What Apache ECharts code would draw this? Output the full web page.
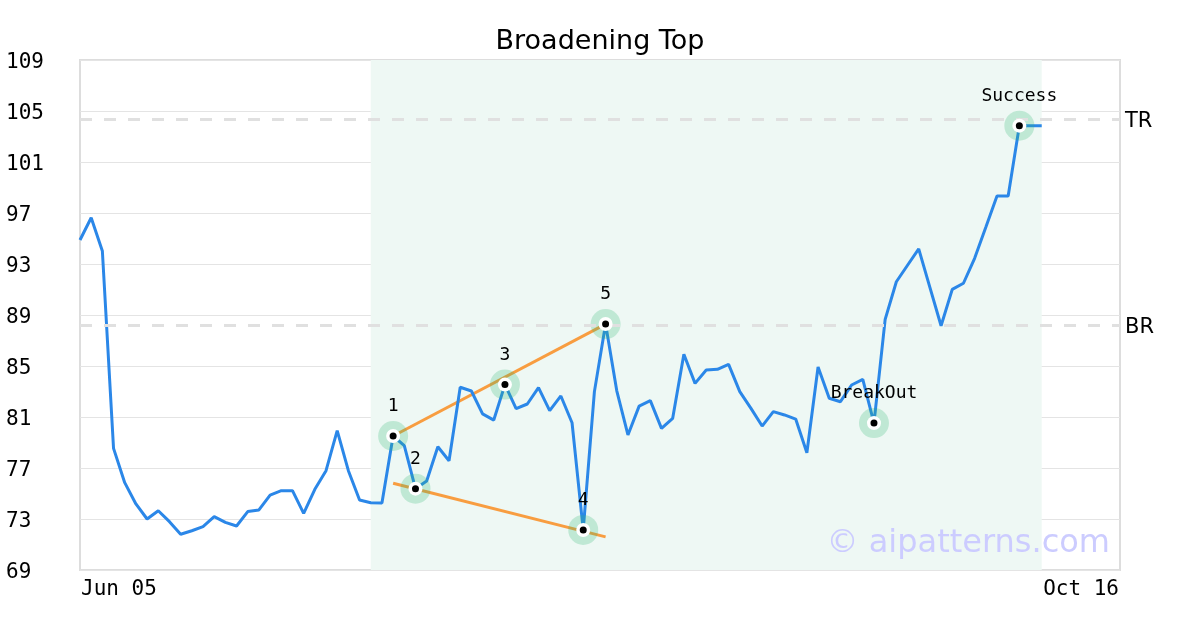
<!DOCTYPE html>
<html>
<head>
<meta charset="utf-8">
<script src="https://cdn.jsdelivr.net/npm/echarts@6/dist/echarts.min.js"></script>
<style>
  html, body { margin: 0; padding: 0; background: #ffffff; }
  #chart { width: 1200px; height: 630px; }
</style>
</head>
<body>
<div id="chart"></div>
<script>
// ---- data ----
const titleText = 'Broadening Top';
const xTickValues = [0, 93];
const xTickLabels = ['Jun 05', 'Oct 16'];
const yTickValues = [69, 73, 77, 81, 85, 89, 93, 97, 101, 105, 109];
const prices = [
  94.88, 96.63, 94.02, 78.54, 75.85, 74.18, 73.0, 73.65, 72.79, 71.8,
  72.08, 72.4, 73.18, 72.74, 72.45, 73.58, 73.71, 74.88, 75.22, 75.22,
  73.44, 75.33, 76.79, 79.93, 76.79, 74.49, 74.28, 74.25, 79.51, 78.75,
  75.38, 75.98, 78.67, 77.57, 83.33, 83.04, 81.24, 80.76, 83.54, 81.65,
  82.02, 83.3, 81.5, 82.65, 80.55, 72.14, 82.99, 88.29, 83.05, 79.59,
  81.85, 82.28, 80.11, 80.9, 85.92, 83.64, 84.69, 84.74, 85.13, 82.99,
  81.68, 80.29, 81.42, 81.16, 80.84, 78.2, 84.92, 82.47, 82.2, 83.51,
  83.95, 80.52, 88.66, 91.61, 92.9, 94.18, 91.17, 88.16, 91.01, 91.49,
  93.45, 95.88, 98.33, 98.33, 103.85, 103.85, 103.85
];
const patternIdx = [28, 30, 38, 45, 47, 71, 84];
const patternLabels = ['1', '2', '3', '4', '5', 'BreakOut', 'Success'];
const upperTrend = [[28, 79.51], [47, 88.29]];
const lowerTrend = [[28, 75.8], [47, 71.6]];
const levelValues = [104.35, 88.2];
const levelLabels = ['TR', 'BR'];
const zoneRange = [26, 86];
const watermark = '\u00A9 aipatterns.com';

// ---- build ----
const lineData = prices.map((v, i) => [i, v]);
const patternData = patternIdx.map((i, k) => ({ name: patternLabels[k], value: [i, prices[i]] }));
const mono = 'DejaVu Sans Mono';
const sans = 'DejaVu Sans';

const chart = echarts.init(document.getElementById('chart'), null, { renderer: 'canvas' });
chart.setOption({
  backgroundColor: '#ffffff',
  animation: false,
  title: {
    text: titleText,
    left: 'center',
    top: 23,
    textStyle: { fontFamily: sans, fontSize: 27, fontWeight: 'normal', color: '#000' }
  },
  grid: {
    left: 80, right: 80, top: 60, bottom: 60,
    containLabel: false,
    outerBoundsMode: 'none',
    show: true,
    borderColor: '#dddddd',
    borderWidth: 2,
    backgroundColor: 'transparent'
  },
  xAxis: {
    type: 'value',
    min: xTickValues[0],
    max: xTickValues[xTickValues.length - 1],
    interval: xTickValues[1] - xTickValues[0],
    axisLine: { show: false },
    axisTick: { show: false },
    splitLine: { show: false },
    axisLabel: {
      margin: 9,
      fontFamily: mono,
      fontSize: 21,
      color: '#000',
      alignMinLabel: 'left',
      alignMaxLabel: 'right',
      padding: [0, 1, 0, 1],
      formatter: (v) => {
        const k = xTickValues.indexOf(Math.round(v));
        return k >= 0 ? xTickLabels[k] : '';
      }
    }
  },
  yAxis: {
    type: 'value',
    min: yTickValues[0],
    max: yTickValues[yTickValues.length - 1],
    axisLine: { show: false },
    axisTick: { show: false, customValues: yTickValues },
    splitLine: { show: true, lineStyle: { color: '#e4e4e4', width: 1 } },
    axisLabel: {
      customValues: yTickValues,
      align: 'left',
      verticalAlign: 'top',
      lineHeight: 6,
      margin: 74,
      fontFamily: mono,
      fontSize: 21,
      color: '#000'
    }
  },
  graphic: [{
    type: 'text',
    right: 90,
    top: 528,
    z: 100,
    style: {
      text: watermark,
      font: '32px "DejaVu Sans"',
      fill: '#ccccff'
    }
  }],
  series: [
    {
      type: 'line',
      data: lineData,
      symbol: 'none',
      z: 3,
      lineStyle: { color: '#2b87e8', width: 3 },
      markArea: {
        silent: true,
        itemStyle: { color: '#eef8f4' },
        data: [[{ xAxis: zoneRange[0] }, { xAxis: zoneRange[1] }]]
      },
      markLine: {
        silent: true,
        symbol: 'none',
        lineStyle: { color: '#e0e0e0', width: 3, type: [12, 12] },
        label: {
          show: true,
          position: 'end',
          distance: 5,
          verticalAlign: 'top',
          lineHeight: 4,
          fontFamily: sans,
          fontSize: 21,
          color: '#000',
          formatter: (p) => levelLabels[p.dataIndex]
        },
        data: levelValues.map((v) => ({ yAxis: v }))
      }
    },
    {
      type: 'line',
      data: upperTrend,
      symbol: 'none',
      z: 2,
      lineStyle: { color: '#f89d40', width: 3 }
    },
    {
      type: 'line',
      data: lowerTrend,
      symbol: 'none',
      z: 2,
      lineStyle: { color: '#f89d40', width: 3 }
    },
    {
      type: 'scatter',
      data: patternData,
      symbol: 'circle',
      symbolSize: 30,
      z: 4,
      itemStyle: { color: 'rgba(46,184,114,0.3)' }
    },
    {
      type: 'scatter',
      data: patternData,
      symbol: 'circle',
      symbolSize: 14,
      z: 5,
      itemStyle: { color: '#ffffff', opacity: 1 }
    },
    {
      type: 'scatter',
      data: patternData,
      symbol: 'circle',
      symbolSize: 7,
      z: 6,
      itemStyle: { color: '#000000', opacity: 1 },
      label: {
        show: true,
        position: 'top',
        distance: 17,
        fontFamily: mono,
        fontSize: 18,
        color: '#000000',
        formatter: (p) => p.name
      }
    }
  ]
});
</script>
</body>
</html>
